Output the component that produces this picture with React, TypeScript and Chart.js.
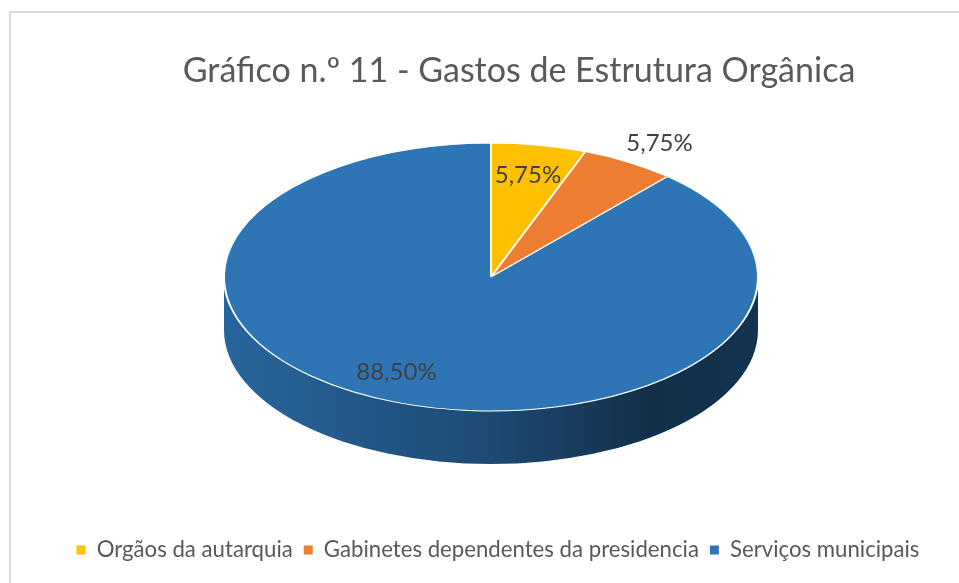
import React, { useEffect, useRef } from 'react';
import { Chart, registerables } from 'chart.js';

Chart.register(...registerables);

// ---- data ----
const categories = ['Orgãos da autarquia', 'Gabinetes dependentes da presidencia', 'Serviços municipais'];
const values = [5.75, 5.75, 88.5];
const valueLabels = ['5,75%', '5,75%', '88,50%'];
const colors = ['#FFC000', '#ED7D31', '#2E75B6'];
const titleText = 'Gráfico n.º 11 - Gastos de Estrutura Orgânica';

// ---- style ----
const FONT = 'Lato, "Open Sans", sans-serif';
const PIE = { cx: 491, cy: 277, rx: 267, ry: 134, depth: 53 };
const LABEL_R = [0.77, 1.18, 0.79];
const LABEL_SHIFT = [[0, 0], [6, 2], [-20, -4]];
const SIDE_STOPS: [number, number][] = [[0, 0.86], [0.5, 0.63], [0.8, 0.4], [1, 0.44]];

function hexToRgb(h: string) {
  const n = parseInt(h.slice(1), 16);
  return [(n >> 16) & 255, (n >> 8) & 255, n & 255];
}
function shade(rgb: number[], f: number) {
  return `rgb(${rgb.map((v) => Math.round(v * f)).join(',')})`;
}

const pie3d = {
  id: 'pie3d',
  beforeDraw(chart: any) {
    const ctx = chart.ctx;
    ctx.save();
    ctx.strokeStyle = '#d9d9d9';
    ctx.lineWidth = 2;
    ctx.strokeRect(10, 12, 1000, 1000);
    ctx.fillStyle = '#595959';
    ctx.font = `34px ${FONT}`;
    ctx.textAlign = 'center';
    ctx.textBaseline = 'middle';
    ctx.fillText(titleText, 519, 71);
    ctx.restore();
  },
  beforeDatasetsDraw(chart: any) {
    const ctx = chart.ctx;
    const meta = chart.getDatasetMeta(0);
    const { cx, cy, rx, ry, depth } = PIE;
    meta.data.forEach((arc: any, i: number) => {
      const startAngle = arc.startAngle;
      const endAngle = arc.endAngle;
      for (let k = -1; k <= 1; k++) {
        const lo = 2 * Math.PI * k;
        const hi = lo + Math.PI;
        const s = Math.max(startAngle, lo);
        const e = Math.min(endAngle, hi);
        if (e <= s) continue;
        const grad = ctx.createLinearGradient(cx - rx, 0, cx + rx, 0);
        const base = hexToRgb(colors[i]);
        SIDE_STOPS.forEach(([p, f]) => grad.addColorStop(p, shade(base, f)));
        ctx.beginPath();
        ctx.ellipse(cx, cy, rx, ry, 0, s, e);
        ctx.ellipse(cx, cy + depth, rx, ry, 0, e, s, true);
        ctx.closePath();
        ctx.fillStyle = grad;
        ctx.fill();
      }
    });
    const a0 = meta.data[0];
    const R = a0.outerRadius;
    ctx.save();
    ctx.translate(cx, cy);
    ctx.scale(rx / R, ry / R);
    ctx.translate(-a0.x, -a0.y);
  },
  afterDatasetsDraw(chart: any) {
    const ctx = chart.ctx;
    ctx.restore();
    const meta = chart.getDatasetMeta(0);
    const { cx, cy, rx, ry } = PIE;
    ctx.save();
    ctx.fillStyle = '#404040';
    ctx.font = `24px ${FONT}`;
    ctx.textAlign = 'center';
    ctx.textBaseline = 'middle';
    meta.data.forEach((arc: any, i: number) => {
      const mid = (arc.startAngle + arc.endAngle) / 2;
      const r = LABEL_R[i];
      ctx.fillText(
        valueLabels[i],
        cx + rx * r * Math.cos(mid) + LABEL_SHIFT[i][0],
        cy + ry * r * Math.sin(mid) + LABEL_SHIFT[i][1]
      );
    });
    ctx.restore();
  },
};

export default function App() {
  const ref = useRef<HTMLCanvasElement>(null);
  useEffect(() => {
    if (!ref.current) return;
    const chart = new Chart(ref.current, {
      type: 'pie',
      data: {
        labels: categories,
        datasets: [
          {
            data: values,
            backgroundColor: colors,
            borderColor: '#ffffff',
            borderWidth: 2,
            radius: PIE.rx,
          } as any,
        ],
      },
      options: {
        responsive: false,
        animation: false,
        events: [],
        layout: { padding: { left: 37, bottom: 12, top: 0 } },
        plugins: {
          title: { display: false },
          tooltip: { enabled: false },
          legend: {
            position: 'bottom',
            labels: {
              boxWidth: 9,
              boxHeight: 9,
              padding: 11,
              color: '#595959',
              font: { family: FONT, size: 22.2 },
              generateLabels: () =>
                categories.map((t, i) => ({
                  text: t,
                  fillStyle: colors[i],
                  strokeStyle: colors[i],
                  lineWidth: 0,
                  hidden: false,
                  index: i,
                  fontColor: '#595959',
                })),
            },
          },
        },
      },
      plugins: [pie3d],
    });
    return () => chart.destroy();
  }, []);
  return (
    <div style={{ position: 'absolute', left: 0, top: 0, width: 959, height: 583, overflow: 'hidden', background: '#fff' }}>
      <canvas ref={ref} width={959} height={583} />
    </div>
  );
}
